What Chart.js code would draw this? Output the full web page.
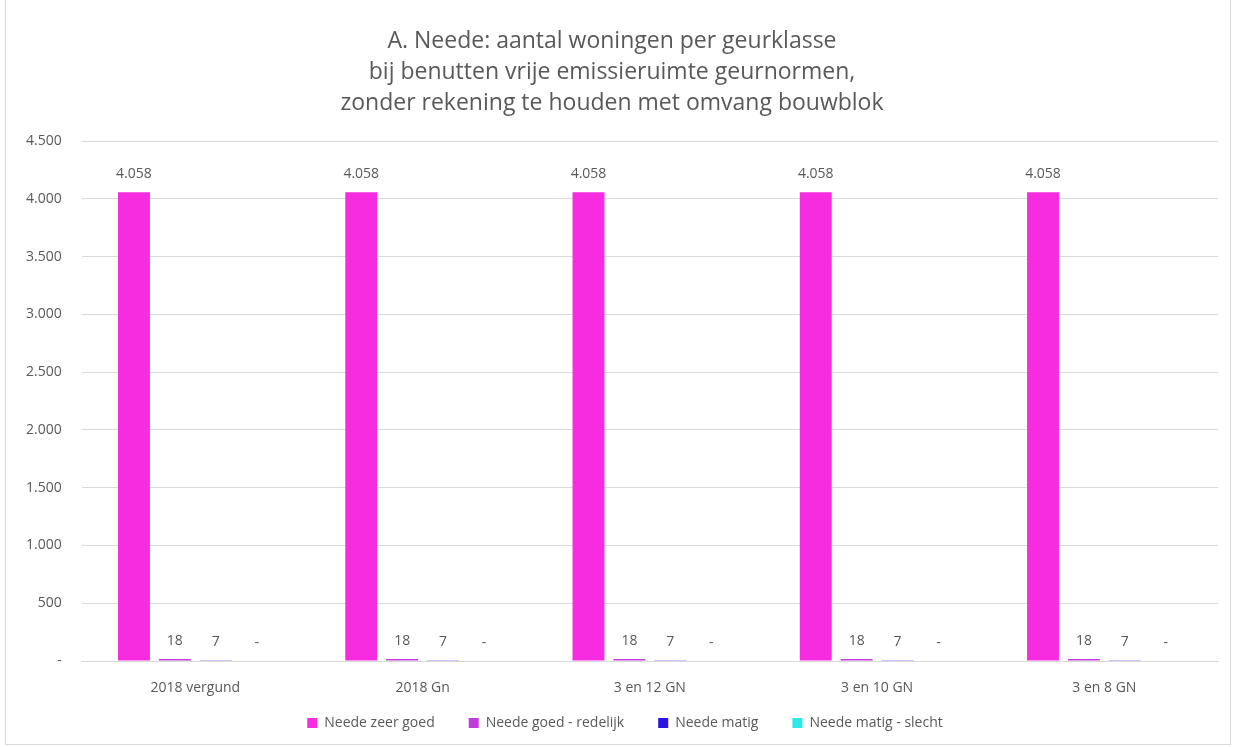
<!DOCTYPE html>
<html>
<head>
<meta charset="utf-8">
<script src="https://cdn.jsdelivr.net/npm/chart.js@4"></script>
<style>
html,body{margin:0;padding:0;background:#fff;}
#frame{position:absolute;left:5px;top:0;width:1226px;height:745px;border:1px solid #d9d9d9;border-top:none;box-sizing:border-box;}
canvas{position:absolute;left:0;top:0;}
</style>
</head>
<body>
<div id="frame"></div>
<canvas id="c" width="1234" height="745"></canvas>
<script>
const categories = ["2018 vergund", "2018 Gn", "3 en 12 GN", "3 en 10 GN", "3 en 8 GN"];
const seriesNames = ["Neede zeer goed", "Neede goed - redelijk", "Neede matig", "Neede matig - slecht"];
const zeerGoed = [4058, 4058, 4058, 4058, 4058];
const goedRedelijk = [18, 18, 18, 18, 18];
const matig = [7, 7, 7, 7, 7];
const matigSlecht = [0, 0, 0, 0, 0];
const titleLines = ["A. Neede: aantal woningen per geurklasse", "bij benutten vrije emissieruimte geurnormen,", "zonder rekening te houden met omvang bouwblok"];
const colors = ["#F72CE0", "#C23BDC", "#2A14E6", "#2BE8EA"];

function fmt(v){
  if (v === 0) return "-";
  return String(v).replace(/\B(?=(\d{3})+(?!\d))/g, ".");
}
const FONT = "'Open Sans', Lato, sans-serif";
const GREY = "#595959";

const labelPlugin = {
  id: 'valueLabels',
  afterDatasetsDraw(chart){
    const ctx = chart.ctx;
    ctx.save();
    ctx.fillStyle = GREY;
    ctx.font = "14px " + FONT;
    ctx.textAlign = "center";
    ctx.textBaseline = "alphabetic";
    chart.data.datasets.forEach((ds, i) => {
      const meta = chart.getDatasetMeta(i);
      meta.data.forEach((bar, j) => {
        ctx.fillText(fmt(ds.data[j]), bar.x, bar.y - 14);
      });
    });
    ctx.restore();
  }
};

// move the legend box up and a little right after layout
const legendShift = {
  id: 'legendShift',
  afterLayout(chart){
    const l = chart.legend;
    if (!l) return;
    l.top -= 19;
    l.height += 19;
    l.left += 13;
    l.right += 13;
  }
};

const sets = [zeerGoed, goedRedelijk, matig, matigSlecht];
new Chart(document.getElementById('c'), {
  type: 'bar',
  data: {
    labels: categories,
    datasets: sets.map((d, i) => ({
      label: seriesNames[i],
      data: d,
      backgroundColor: colors[i],
      borderWidth: 0,
      categoryPercentage: 0.72,
      barPercentage: 0.78
    }))
  },
  options: {
    responsive: false,
    animation: false,
    devicePixelRatio: 1,
    layout: { padding: { left: 6, right: 16, top: 10, bottom: 6 } },
    plugins: {
      title: {
        display: true,
        text: titleLines,
        color: GREY,
        font: { family: FONT, size: 23, weight: 'normal', lineHeight: 1.35 },
        padding: { top: 16, bottom: 22 }
      },
      legend: {
        position: 'bottom',
        maxHeight: 38,
        labels: {
          color: GREY,
          font: { family: FONT, size: 14 },
          boxWidth: 10, boxHeight: 10,
          padding: 34
        }
      },
      tooltip: { enabled: false }
    },
    scales: {
      x: {
        grid: { display: false },
        border: { color: '#d9d9d9' },
        ticks: { color: GREY, font: { family: FONT, size: 14 }, padding: 11 },
        afterFit: scale => { scale.height = 40; }
      },
      y: {
        min: 0, max: 4500,
        ticks: {
          stepSize: 500,
          color: GREY,
          font: { family: FONT, size: 14 },
          padding: 20,
          callback: v => fmt(v)
        },
        grid: { color: '#d9d9d9', drawTicks: false },
        border: { display: false }
      }
    }
  },
  plugins: [labelPlugin, legendShift]
});
</script>
</body>
</html>
